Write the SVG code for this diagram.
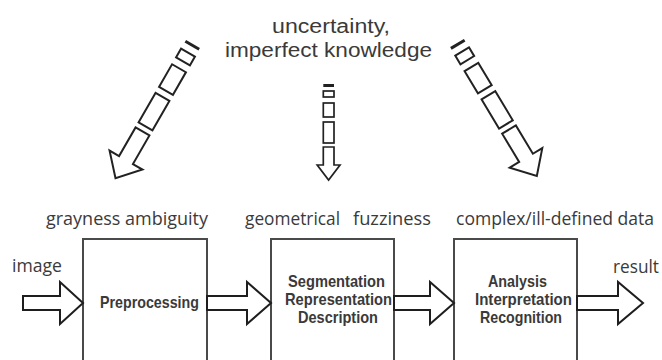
<svg xmlns="http://www.w3.org/2000/svg" width="662" height="360" viewBox="0 0 662 360">
<style>
.lbl{font-family:"Open Sans","Liberation Sans",sans-serif;fill:#3a3a3a;}
.ttl{font-family:"Liberation Sans",Arial,sans-serif;fill:#3a3a3a;font-size:20px;}
.mid{font-size:18px;}
.box{fill:#fff;stroke:#4a4a4a;stroke-width:2;}
.bt{font-family:"Liberation Sans",Arial,sans-serif;font-weight:bold;font-size:16.5px;fill:#3a3a3a;text-anchor:middle;}
.harrow{fill:#fff;stroke:#1e1e1e;stroke-width:2;stroke-linejoin:miter;}
.dseg{fill:#fff;stroke:#222;stroke-width:2;}
.vseg{fill:#fff;stroke:#222;stroke-width:1.7;}
.bar{stroke:#222;stroke-width:3;}
</style>

<g id="title">
<text class="ttl" x="272" y="33" textLength="118" lengthAdjust="spacingAndGlyphs">uncertainty,</text>
<text class="ttl" x="225" y="57" textLength="207" lengthAdjust="spacingAndGlyphs">imperfect knowledge</text>
</g>

<g id="label-grayness">
<text class="lbl mid" x="46" y="225" textLength="162" lengthAdjust="spacingAndGlyphs">grayness ambiguity</text>
</g>
<g id="label-geometrical">
<text class="lbl mid" y="225"><tspan x="245" textLength="95" lengthAdjust="spacingAndGlyphs">geometrical</tspan> <tspan x="353" textLength="78" lengthAdjust="spacingAndGlyphs">fuzziness</tspan></text>
</g>
<g id="label-complex">
<text class="lbl mid" x="456" y="225" textLength="198" lengthAdjust="spacingAndGlyphs">complex/ill-defined data</text>
</g>
<g id="label-image">
<text class="lbl mid" x="12" y="272" textLength="50" lengthAdjust="spacingAndGlyphs">image</text>
</g>
<g id="label-result">
<text class="lbl mid" x="613" y="273" textLength="46" lengthAdjust="spacingAndGlyphs">result</text>
</g>

<g id="box-preprocessing">
<rect class="box" x="83" y="239" width="124" height="140"/>
<text class="bt" x="149.5" y="307.5" textLength="99" lengthAdjust="spacingAndGlyphs">Preprocessing</text>
</g>
<g id="box-segmentation">
<rect class="box" x="271" y="239" width="123" height="140"/>
<text class="bt" x="336.5" y="287" textLength="97" lengthAdjust="spacingAndGlyphs">Segmentation</text>
<text class="bt" x="338.5" y="305" textLength="107" lengthAdjust="spacingAndGlyphs">Representation</text>
<text class="bt" x="338" y="323" textLength="80" lengthAdjust="spacingAndGlyphs">Description</text>
</g>
<g id="box-analysis">
<rect class="box" x="454" y="239" width="123" height="140"/>
<text class="bt" x="517.5" y="287" textLength="59" lengthAdjust="spacingAndGlyphs">Analysis</text>
<text class="bt" x="523.5" y="305" textLength="97" lengthAdjust="spacingAndGlyphs">Interpretation</text>
<text class="bt" x="521" y="323" textLength="82" lengthAdjust="spacingAndGlyphs">Recognition</text>
</g>

<defs>
<g id="darrow">
<line class="bar" x1="-8" y1="1.5" x2="8" y2="1.5"/>
<rect class="dseg" x="-8" y="10" width="16" height="10"/>
<rect class="dseg" x="-8" y="28" width="16" height="26"/>
<rect class="dseg" x="-8" y="61" width="16" height="34"/>
<polygon class="dseg" points="-8,101 8,101 8,134 19,134 0,155 -19,134 -8,134"/>
</g>
</defs>

<g id="connectors">
<polygon class="harrow" points="23,296 60,296 60,282 83,303 60,324 60,310 23,310"/>
<polygon class="harrow" points="207,296 247,296 247,282 271,303 247,324 247,310 207,310"/>
<polygon class="harrow" points="394,296 430,296 430,282 454,303 430,324 430,310 394,310"/>
<polygon class="harrow" points="577,296 618,296 618,282 643,303 618,324 618,310 577,310"/>

<use href="#darrow" transform="translate(193,44) rotate(30)"/>
<use href="#darrow" transform="translate(457,43) rotate(-31)"/>

<g id="vertical-arrow">
<line class="bar" x1="323.3" y1="85.5" x2="334" y2="85.5"/>
<rect class="vseg" x="323.3" y="91" width="10.7" height="6"/>
<rect class="vseg" x="323.3" y="103" width="10.7" height="14"/>
<rect class="vseg" x="323.3" y="122" width="10.7" height="21"/>
<polygon class="vseg" points="323.3,147 334,147 334,165 340,165 328.6,180 317.2,165 323.3,165"/>
</g>
</g>
</svg>
